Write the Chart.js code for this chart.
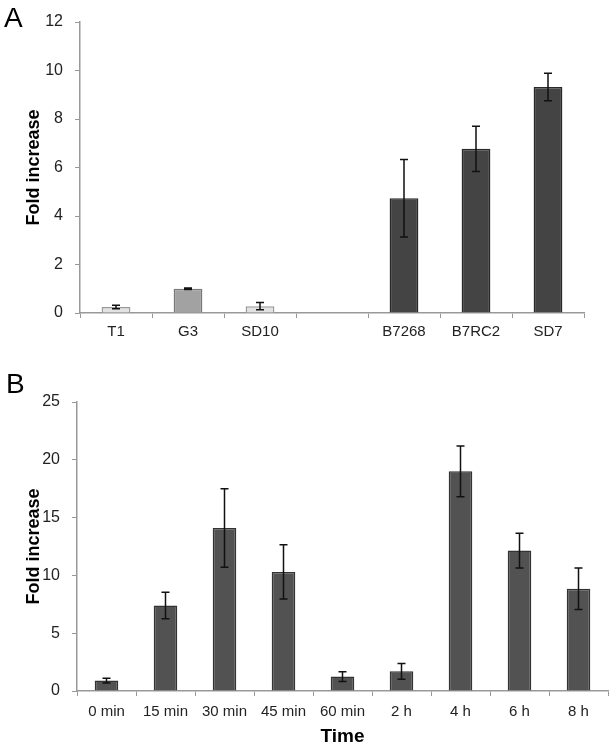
<!DOCTYPE html>
<html>
<head>
<meta charset="utf-8">
<script src="https://cdn.jsdelivr.net/npm/chart.js@4.4.0/dist/chart.umd.min.js"></script>
<style>
  body { margin: 0; background: #fff; width: 616px; height: 750px; position: relative; overflow: hidden; }
  canvas { position: absolute; left: 0; }
  #chartA { top: 0; }
  #chartB { top: 350px; }
  .panel { position: absolute; font-family: "Liberation Sans", Arial, sans-serif; font-size: 28px; color: #000; line-height: 1; }
</style>
</head>
<body>
<canvas id="chartA" width="616" height="345"></canvas>
<canvas id="chartB" width="616" height="400"></canvas>
<div class="panel" style="left:4px; top:4px;">A</div>
<div class="panel" style="left:6px; top:370px;">B</div>
<script>
// panel A - strains
const strainsA = ['T1', 'G3', 'SD10', '', 'B7268', 'B7RC2', 'SD7'];
const foldA = [0.25, 1.0, 0.28, null, 4.73, 6.77, 9.32];
const errA = [0.07, 0.03, 0.15, null, 1.6, 0.93, 0.57];
const ticksA = [0, 2, 4, 6, 8, 10, 12];

// panel B - time course
const timesB = ['0 min', '15 min', '30 min', '45 min', '60 min', '2 h', '4 h', '6 h', '8 h'];
const foldB = [0.9, 7.4, 14.1, 10.3, 1.25, 1.7, 19.0, 12.15, 8.85];
const errB = [0.2, 1.15, 3.4, 2.35, 0.42, 0.68, 2.2, 1.5, 1.8];
const ticksB = [0, 5, 10, 15, 20, 25];

const FONT = '"Liberation Sans", Arial, sans-serif';
const AXIS = '#999';

// draws the error bars on top of each bar
const errorBars = {
    id: 'errorBars',
    afterDatasetsDraw(chart, args, opts) {
        const ctx = chart.ctx;
        const y = chart.scales.y;
        const ds = chart.data.datasets[0];
        const meta = chart.getDatasetMeta(0);
        ctx.save();
        ctx.strokeStyle = '#111';
        ctx.lineWidth = 1.5;
        meta.data.forEach((bar, i) => {
            const v = ds.data[i];
            const e = opts.errors[i];
            if (v == null || e == null) return;
            const top = y.getPixelForValue(v + e);
            const bot = y.getPixelForValue(v - e);
            ctx.beginPath();
            ctx.moveTo(bar.x, top); ctx.lineTo(bar.x, bot);
            ctx.moveTo(bar.x - 4, top); ctx.lineTo(bar.x + 4, top);
            ctx.moveTo(bar.x - 4, bot); ctx.lineTo(bar.x + 4, bot);
            ctx.stroke();
        });
        ctx.restore();
    }
};

function makeChart(id, labels, values, errors, tickVals, colors, borders, cfg) {
    new Chart(document.getElementById(id), {
        type: 'bar',
        data: {
            labels: labels,
            datasets: [{
                data: values,
                backgroundColor: colors,
                borderColor: borders,
                borderWidth: 1.5,
                barPercentage: 0.4,
                categoryPercentage: 1.0
            }]
        },
        options: {
            responsive: false,
            animation: false,
            layout: { padding: cfg.padding },
            plugins: {
                legend: { display: false },
                tooltip: { enabled: false },
                errorBars: { errors: errors }
            },
            scales: {
                x: {
                    grid: { drawOnChartArea: false, color: AXIS, tickLength: 5 },
                    border: { color: AXIS, width: 1.5 },
                    ticks: { color: '#222', font: { family: FONT, size: 15 }, padding: cfg.xPad, maxRotation: 0 },
                    title: cfg.xTitle,
                    afterFit: s => { s.height = cfg.xHeight; }
                },
                y: {
                    min: tickVals[0],
                    max: tickVals[tickVals.length - 1],
                    afterBuildTicks: s => { s.ticks = tickVals.map(v => ({ value: v })); },
                    grid: { drawOnChartArea: false, color: AXIS, tickLength: 5 },
                    border: { color: AXIS, width: 1.5 },
                    ticks: { color: '#222', font: { family: FONT, size: 16 }, padding: 12 },
                    title: {
                        display: true,
                        text: 'Fold increase',
                        color: '#000',
                        font: { family: FONT, size: 18, weight: 'bold' },
                        padding: { top: 23, bottom: 0 }
                    },
                    afterFit: s => { s.width = cfg.yWidth; }
                }
            }
        },
        plugins: [errorBars]
    });
}

const lightA = ['#e2e2e2', '#a2a2a2', '#e2e2e2', '#444', '#444', '#444', '#444'];
const edgeA = ['#9a9a9a', '#7a7a7a', '#9a9a9a', '#2a2a2a', '#2a2a2a', '#2a2a2a', '#2a2a2a'];

makeChart('chartA', strainsA, foldA, errA, ticksA, lightA, edgeA, {
    padding: { top: 22, right: 32, left: 0, bottom: 0 },
    xHeight: 32,
    xPad: 5,
    yWidth: 80,
    xTitle: { display: false }
});

makeChart('chartB', timesB, foldB, errB, ticksB, '#525252', '#333', {
    padding: { top: 52, right: 8, left: 0, bottom: 0 },
    xHeight: 59,
    xPad: 7,
    yWidth: 77,
    xTitle: {
        display: true,
        text: 'Time',
        color: '#000',
        font: { family: FONT, size: 19, weight: 'bold' },
        padding: { top: 0, bottom: 2 }
    }
});
</script>
</body>
</html>
